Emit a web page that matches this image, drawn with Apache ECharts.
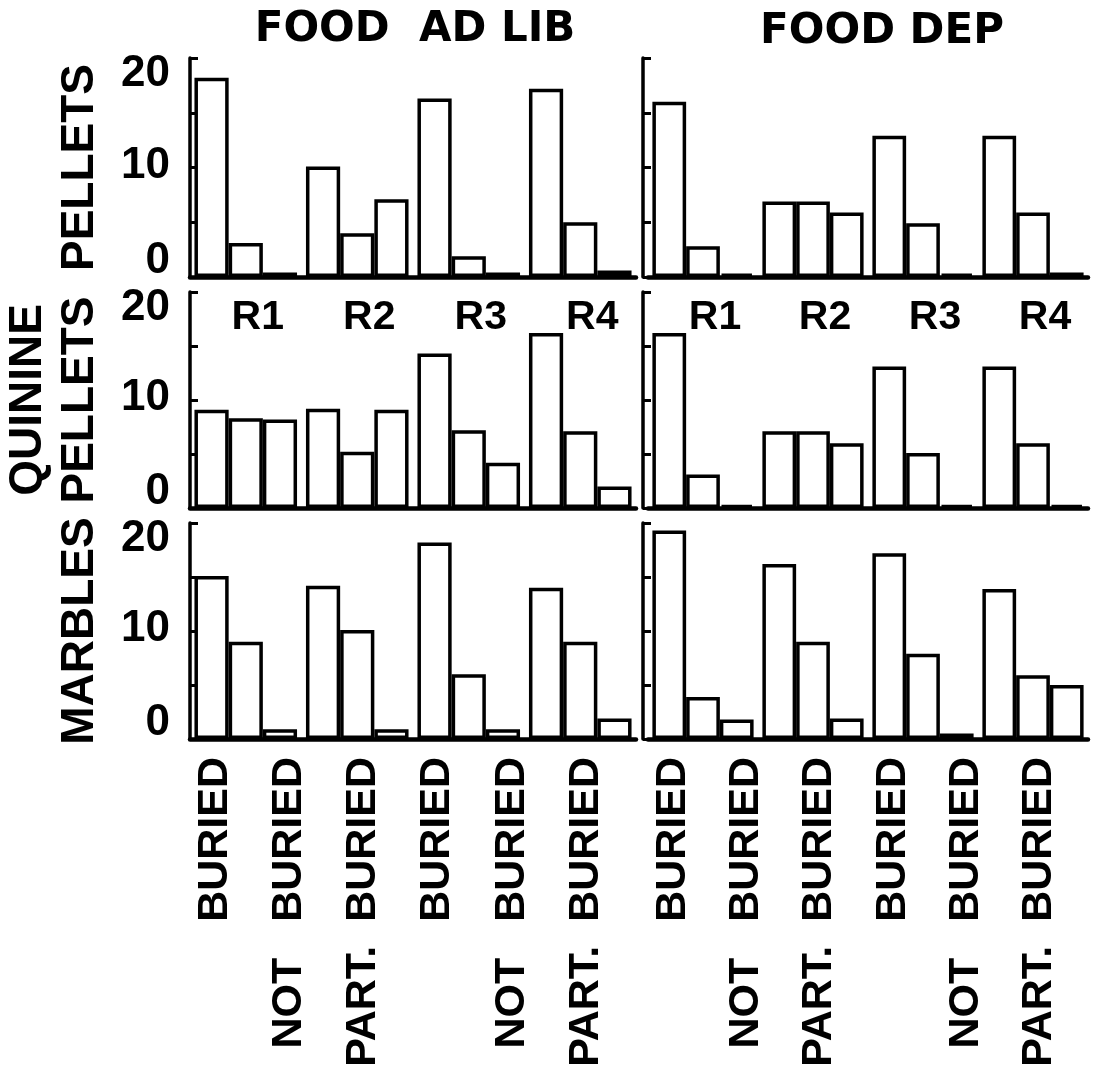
<!DOCTYPE html>
<html>
<head>
<meta charset="utf-8">
<script src="https://cdn.jsdelivr.net/npm/echarts@6/dist/echarts.min.js"></script>
<style>
html,body{margin:0;padding:0;background:#fff;}
#chart{width:1099px;height:1073px;}
</style>
</head>
<body>
<div id="chart"></div>
<script>
// ---- data ----
const categories = ['R1', 'R2', 'R3', 'R4'];
const columnTitles = ['FOOD  AD LIB', 'FOOD DEP'];
const rowNames = ['PELLETS', 'QUININE\nPELLETS', 'MARBLES'];
const bottomLabels = ['BURIED', 'NOT   BURIED', 'PART.  BURIED', 'BURIED', 'NOT   BURIED', 'PART.  BURIED'];
const yTickLabels = ['0', '10', '20'];

const pelletsAdLibBuried = [18.2, 10.1, 16.3, 17.2];
const pelletsAdLibNot    = [3.1, 4.0, 1.9, 5.0];
const pelletsAdLibPart   = [0.4, 7.1, 0.4, 0.6];
const pelletsDepBuried   = [16.0, 6.9, 12.9, 12.9];
const pelletsDepNot      = [2.8, 6.9, 4.9, 5.9];
const pelletsDepPart     = [0.3, 5.9, 0.3, 0.4];

const quinineAdLibBuried = [9.1, 9.2, 14.3, 16.2];
const quinineAdLibNot    = [8.3, 5.2, 7.2, 7.1];
const quinineAdLibPart   = [8.2, 9.1, 4.2, 2.0];
const quinineDepBuried   = [16.2, 7.1, 13.1, 13.1];
const quinineDepNot      = [3.1, 7.1, 5.1, 6.0];
const quinineDepPart     = [0.3, 6.0, 0.3, 0.3];

const marblesAdLibBuried = [15.1, 14.2, 18.2, 14.0];
const marblesAdLibNot    = [9.0, 10.1, 6.0, 9.0];
const marblesAdLibPart   = [0.9, 0.9, 0.9, 1.9];
const marblesDepBuried   = [19.3, 16.2, 17.2, 13.9];
const marblesDepNot      = [3.9, 9.0, 7.9, 5.9];
const marblesDepPart     = [1.8, 1.9, 0.5, 5.0];

// panels in row-major order
const panels = [
  [pelletsAdLibBuried, pelletsAdLibNot, pelletsAdLibPart],
  [pelletsDepBuried, pelletsDepNot, pelletsDepPart],
  [quinineAdLibBuried, quinineAdLibNot, quinineAdLibPart],
  [quinineDepBuried, quinineDepNot, quinineDepPart],
  [marblesAdLibBuried, marblesAdLibNot, marblesAdLibPart],
  [marblesDepBuried, marblesDepNot, marblesDepPart]
];

// ---- layout ----
const FONT = 'Liberation Sans';
const rows = [{top: 58, height: 219}, {top: 292, height: 216}, {top: 523, height: 216}];
const cols = [{left: 190, width: 446, offset: 0}, {left: 648, width: 440, offset: 5}];

const grid = [], xAxis = [], yAxis = [], series = [];
for (let r = 0; r < 3; r++) {
  for (let c = 0; c < 2; c++) {
    const p = r * 2 + c;
    grid.push({left: cols[c].left, width: cols[c].width, top: rows[r].top, height: rows[r].height});
    xAxis.push({
      type: 'category', gridIndex: p, data: categories,
      axisLine: {lineStyle: {color: '#000', width: 4.5}},
      axisTick: {show: false}, axisLabel: {show: false}
    });
    const y = {
      type: 'value', gridIndex: p, min: 0, max: 20, interval: 5,
      offset: cols[c].offset,
      splitLine: {show: false},
      axisLine: {show: true, lineStyle: {color: '#000', width: 3.5}},
      axisTick: {show: true, inside: true, length: 8, lineStyle: {color: '#000', width: 3}},
      axisLabel: {
        show: c === 0, margin: 20,
        formatter: function (v) {
          if (v === 0) return '{b|' + yTickLabels[0] + '}';
          if (v === 10) return '{m|' + yTickLabels[1] + '}';
          if (v === 20) return '{t|' + yTickLabels[2] + '}';
          return '';
        },
        rich: {
          t: {fontFamily: FONT, fontWeight: 'bold', fontSize: 44, color: '#000', padding: [32, 0, 0, 0]},
          m: {fontFamily: FONT, fontWeight: 'bold', fontSize: 44, color: '#000', padding: [0, 0, 4, 0]},
          b: {fontFamily: FONT, fontWeight: 'bold', fontSize: 44, color: '#000', padding: [0, 0, 32, 0]}
        }
      }
    };
    if (c === 0) {
      y.name = rowNames[r];
      y.nameLocation = 'middle';
      y.nameRotate = 90;
      y.nameGap = 84;
      y.nameTextStyle = {fontFamily: FONT, fontWeight: 'bold', fontSize: 46, color: '#000', lineHeight: 52};
    }
    yAxis.push(y);
    panels[p].forEach(function (d) {
      series.push({
        type: 'bar', xAxisIndex: p, yAxisIndex: p, data: d,
        barGap: '0%', barCategoryGap: '8%',
        itemStyle: {color: '#fff', borderColor: '#000', borderWidth: 3.5},
        emphasis: {disabled: true}, silent: true
      });
    });
  }
}

// R1..R4 labels along the top of the middle row
[2, 3].forEach(function (g) {
  xAxis.push({
    type: 'category', gridIndex: g, data: categories, position: 'top',
    axisLine: {show: false}, axisTick: {show: false},
    axisLabel: {inside: true, margin: 26, verticalAlign: 'middle', padding: [0, 0, 0, 24],
      fontFamily: FONT, fontWeight: 'bold', fontSize: 41, color: '#000'}
  });
});

// bottom rotated category labels
const labelGrids = [{left: 178, width: 445}, {left: 636, width: 440}];
labelGrids.forEach(function (lg, i) {
  const gi = grid.length;
  grid.push({left: lg.left, width: lg.width, top: 739, height: 1});
  xAxis.push({
    type: 'category', gridIndex: gi, data: bottomLabels,
    axisLine: {show: false}, axisTick: {show: false},
    axisLabel: {rotate: 90, interval: 0, margin: 17,
      fontFamily: FONT, fontWeight: 'bold', fontSize: 43, color: '#000'}
  });
  yAxis.push({type: 'value', gridIndex: gi, show: false});
});

const option = {
  backgroundColor: '#fff',
  animation: false,
  title: [
    {text: columnTitles[0], left: 410, top: 4, textAlign: 'center',
     textStyle: {fontFamily: 'DejaVu Sans', fontWeight: 'bold', fontSize: 42, color: '#000'}},
    {text: columnTitles[1], left: 877, top: 6, textAlign: 'center',
     textStyle: {fontFamily: 'DejaVu Sans', fontWeight: 'bold', fontSize: 42, color: '#000'}}
  ],
  grid: grid, xAxis: xAxis, yAxis: yAxis, series: series
};

const chart = echarts.init(document.getElementById('chart'), null, {renderer: 'canvas'});
chart.setOption(option);
</script>
</body>
</html>
